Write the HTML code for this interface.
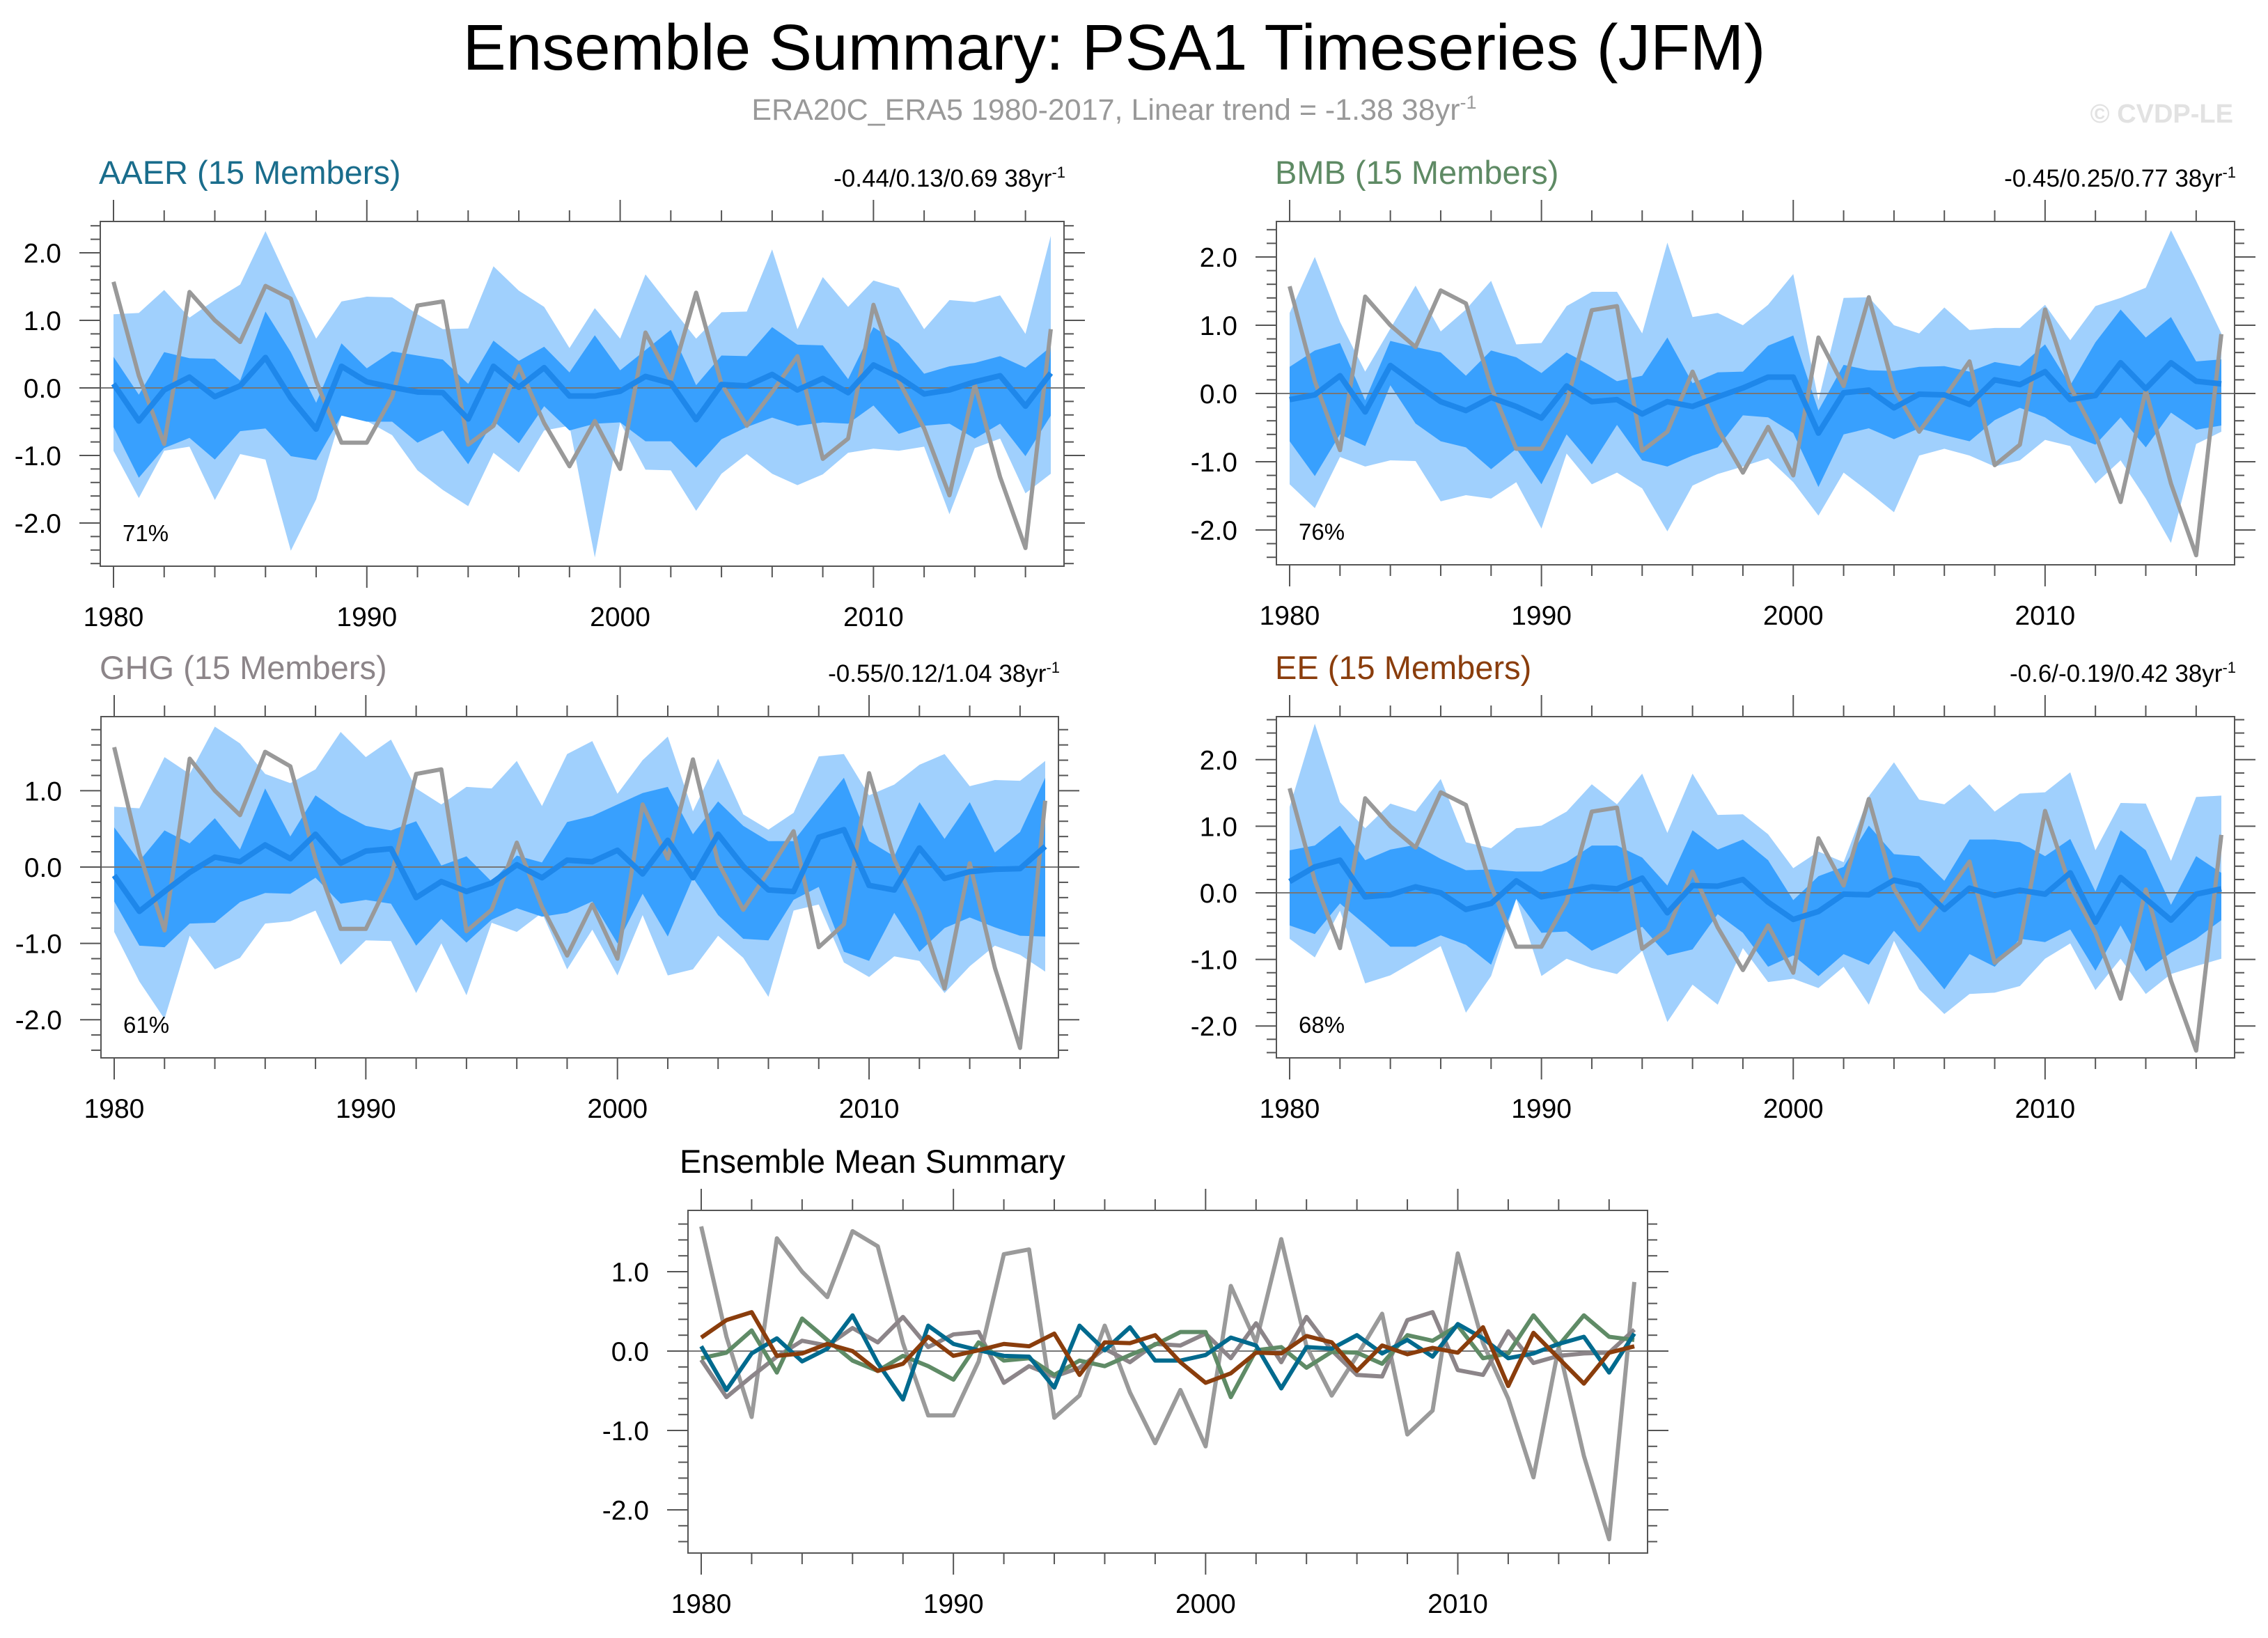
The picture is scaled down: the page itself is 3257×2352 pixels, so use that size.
<!DOCTYPE html>
<html><head><meta charset="utf-8">
<style>
html,body{margin:0;padding:0;background:#fff;}
svg{display:block;font-family:"Liberation Sans",sans-serif;}
</style></head>
<body>
<svg id="chart" width="3257" height="2352" viewBox="0 0 3257 2352" xmlns="http://www.w3.org/2000/svg">
<text x="1600" y="100" text-anchor="middle" font-size="93" fill="#000">Ensemble Summary: PSA1 Timeseries (JFM)</text>
<text x="1600" y="172" text-anchor="middle" font-size="43" fill="#999">ERA20C_ERA5 1980-2017, Linear trend = -1.38 38yr<tspan dy="-16" font-size="27">-1</tspan></text>
<text x="3207" y="176" text-anchor="end" font-size="38" font-weight="bold" fill="#e2e2e2">© CVDP-LE</text>
<g id="plots"></g>
</svg>
<script>
const years = Array.from({length:38},(_,i)=>1980+i);
const obs = [1.57,0.18,-0.83,1.42,1.0,0.68,1.51,1.32,0.1,-0.81,-0.81,-0.13,1.22,1.28,-0.84,-0.56,0.32,-0.52,-1.16,-0.49,-1.2,0.82,0.11,1.41,0.06,-0.56,-0.06,0.47,-1.05,-0.75,1.23,0.1,-0.6,-1.59,0.05,-1.32,-2.37,0.87];
const aaerMean = [0.06,-0.49,-0.03,0.16,-0.13,0.03,0.45,-0.15,-0.61,0.32,0.09,0.01,-0.06,-0.07,-0.46,0.32,0.01,0.3,-0.12,-0.12,-0.05,0.17,0.07,-0.47,0.05,0.03,0.2,-0.03,0.14,-0.07,0.34,0.16,-0.09,-0.03,0.09,0.18,-0.27,0.22];
const bmbMean = [-0.09,-0.02,0.26,-0.27,0.41,0.14,-0.12,-0.25,-0.06,-0.19,-0.36,0.11,-0.12,-0.09,-0.3,-0.12,-0.19,-0.05,0.08,0.24,0.24,-0.58,0.01,0.05,-0.21,-0.01,-0.02,-0.16,0.2,0.13,0.32,-0.09,-0.03,0.45,0.07,0.45,0.18,0.14];
const ghgMean = [-0.11,-0.58,-0.32,-0.07,0.13,0.07,0.29,0.11,0.43,0.05,0.21,0.24,-0.4,-0.19,-0.32,-0.21,0.03,-0.14,0.09,0.07,0.22,-0.09,0.35,-0.14,0.43,0.01,-0.3,-0.32,0.39,0.49,-0.24,-0.3,0.25,-0.15,-0.06,-0.03,-0.02,0.27];
const eeMean = [0.17,0.39,0.49,-0.06,-0.03,0.09,0,-0.25,-0.16,0.18,-0.06,0.01,0.09,0.06,0.22,-0.3,0.11,0.1,0.2,-0.14,-0.4,-0.28,-0.02,-0.03,0.19,0.11,-0.25,0.07,-0.04,0.04,-0.02,0.3,-0.44,0.23,-0.09,-0.41,-0.02,0.06];

const aaerHi = [1.09,1.11,1.45,1.04,1.3,1.53,2.32,1.51,0.73,1.28,1.35,1.34,1.09,0.87,0.88,1.8,1.44,1.2,0.59,1.18,0.73,1.68,1.2,0.73,1.12,1.13,2.05,0.87,1.64,1.2,1.59,1.48,0.87,1.3,1.27,1.37,0.8,2.25];
const aaerLo = [-0.93,-1.63,-0.93,-0.87,-1.66,-0.98,-1.06,-2.41,-1.65,-0.39,-0.49,-0.7,-1.22,-1.51,-1.75,-0.96,-1.25,-0.63,-0.56,-2.51,-0.51,-1.21,-1.22,-1.82,-1.27,-0.98,-1.27,-1.44,-1.28,-0.96,-0.9,-0.93,-0.87,-1.87,-0.89,-0.75,-1.56,-1.27];
const aaerQ3 = [0.46,-0.1,0.53,0.44,0.43,0.11,1.13,0.53,-0.22,0.66,0.29,0.54,0.48,0.42,0.06,0.7,0.4,0.61,0.23,0.78,0.26,0.56,0.86,0.04,0.48,0.47,0.9,0.64,0.63,0.13,0.9,0.66,0.21,0.32,0.37,0.47,0.3,0.61];
const aaerQ1 = [-0.58,-1.33,-0.89,-0.74,-1.06,-0.64,-0.6,-1.01,-1.07,-0.41,-0.5,-0.5,-0.81,-0.63,-1.13,-0.49,-0.82,-0.27,-0.63,-0.53,-0.51,-0.79,-0.79,-1.18,-0.76,-0.58,-0.44,-0.56,-0.51,-0.53,-0.26,-0.68,-0.56,-0.53,-0.75,-0.53,-1.01,-0.41];

const bmbHi = [1.18,2.0,1.05,0.32,0.95,1.58,0.91,1.23,1.65,0.72,0.74,1.28,1.49,1.49,0.88,2.21,1.12,1.18,1.0,1.3,1.75,-0.1,1.4,1.41,1.0,0.88,1.26,0.93,0.96,0.96,1.3,0.78,1.28,1.4,1.55,2.39,1.65,0.88];
const bmbLo = [-1.33,-1.68,-0.93,-1.07,-0.98,-0.99,-1.58,-1.49,-1.54,-1.3,-1.98,-0.88,-1.33,-1.16,-1.39,-2.02,-1.35,-1.18,-1.07,-0.95,-1.3,-1.79,-1.16,-1.44,-1.74,-0.91,-0.81,-0.91,-1.07,-0.98,-0.68,-0.77,-1.32,-0.98,-1.54,-2.19,-0.74,-0.56];
const bmbQ3 = [0.39,0.63,0.74,-0.1,0.77,0.68,0.6,0.26,0.63,0.53,0.3,0.6,0.4,0.18,0.26,0.82,0.15,0.31,0.32,0.7,0.85,-0.25,0.42,0.34,0.33,0.39,0.4,0.32,0.46,0.4,0.72,0.12,0.75,1.23,0.82,1.12,0.47,0.5];
const bmbQ1 = [-0.7,-1.21,-0.6,-0.77,0.12,-0.44,-0.7,-0.79,-1.11,-0.81,-1.33,-0.6,-1.04,-0.46,-0.98,-1.07,-0.91,-0.79,-0.32,-0.35,-0.58,-1.37,-0.6,-0.51,-0.67,-0.51,-0.61,-0.7,-0.39,-0.21,-0.35,-0.61,-0.75,-0.35,-0.79,-0.28,-0.53,-0.47];

const ghgHi = [0.79,0.77,1.44,1.22,1.84,1.62,1.22,1.1,1.28,1.77,1.44,1.67,1.03,0.82,1.05,1.03,1.39,0.8,1.48,1.65,0.96,1.4,1.71,0.73,1.42,0.69,0.49,0.71,1.45,1.48,0.94,1.08,1.34,1.48,1.06,1.14,1.13,1.39];
const ghgLo = [-0.85,-1.5,-1.99,-0.9,-1.34,-1.19,-0.74,-0.71,-0.57,-1.28,-0.96,-0.97,-1.65,-1.0,-1.68,-0.73,-0.85,-0.6,-1.34,-0.82,-1.42,-0.63,-1.42,-1.34,-0.9,-1.19,-1.7,-0.57,-0.49,-1.25,-1.44,-1.17,-1.23,-1.65,-1.3,-1.03,-1.15,-1.37];
const ghgQ3 = [0.52,0.08,0.48,0.31,0.64,0.23,1.03,0.4,0.94,0.71,0.54,0.48,0.6,0.02,0.14,-0.19,0.15,0.06,0.59,0.67,0.82,0.97,1.05,0.43,0.86,0.54,0.34,0.34,0.76,1.17,0.34,0.14,0.85,0.37,0.85,0.19,0.46,1.17];
const ghgQ1 = [-0.45,-1.03,-1.05,-0.74,-0.73,-0.46,-0.34,-0.35,-0.14,-0.48,-0.43,-0.48,-1.03,-0.68,-0.99,-0.69,-0.54,-0.65,-0.6,-0.45,-1.0,-0.35,-0.91,-0.14,-0.63,-0.94,-0.96,-0.43,-0.26,-1.11,-1.23,-0.6,-1.11,-0.8,-0.66,-0.79,-0.9,-0.91];

const eeHi = [1.29,2.54,1.36,0.97,1.34,1.22,1.71,0.76,0.67,0.97,1.01,1.22,1.63,1.33,1.79,0.9,1.79,1.17,1.18,0.88,0.37,0.62,0.46,1.45,1.96,1.4,1.33,1.63,1.22,1.49,1.51,1.81,0.64,1.35,1.34,0.48,1.44,1.46];
const eeLo = [-0.69,-0.97,-0.27,-1.36,-1.24,-1.02,-0.8,-1.8,-1.25,-0.09,-1.25,-0.99,-1.13,-1.22,-0.87,-1.94,-1.38,-1.68,-0.83,-1.34,-1.29,-1.43,-1.11,-1.68,-0.72,-1.45,-1.82,-1.52,-1.5,-1.4,-0.99,-0.76,-1.46,-0.99,-1.52,-1.22,-1.1,-0.99];
const eeQ3 = [0.64,0.71,1.01,0.49,0.65,0.72,0.51,0.34,0.35,0.32,0.32,0.46,0.71,0.71,0.53,0.11,0.94,0.65,0.8,0.49,-0.11,0.25,0.39,1.01,0.58,0.55,0.18,0.8,0.8,0.76,0.55,0.81,0.02,0.94,0.64,-0.18,0.55,0.3];
const eeQ1 = [-0.49,-0.62,-0.16,-0.48,-0.81,-0.81,-0.64,-0.78,-1.08,-0.09,-0.6,-0.58,-0.87,-0.69,-0.51,-0.94,-0.85,-0.32,-0.6,-1.11,-0.94,-1.25,-0.92,-1.08,-0.57,-0.99,-1.45,-0.92,-1.11,-0.69,-0.74,-0.55,-1.17,-0.49,-1.18,-0.9,-0.69,-0.41];

const topTicks = [2,1,0,-1,-2];
const ghgTicks = [1,0,-1,-2];
const sumTicks = [1,0,-1,-2];
const xTicks = [1980,1990,2000,2010];

const NS="http://www.w3.org/2000/svg";
const root=document.getElementById('plots');
function mk(tag,attrs,parent){const e=document.createElementNS(NS,tag);for(const k in attrs)e.setAttribute(k,attrs[k]);(parent||root).appendChild(e);return e;}

function panel(cfg){
  const g=mk('g',{});
  
  
  const L=cfg.x0,R=cfg.x1,T=cfg.y0,B=cfg.y1;
  const xs=y=>L+19+(y-1980)*(R-L-38)/37;
  const ys=v=>cfg.zero-v*cfg.unit;
  const clip='clip-'+cfg.name;
  const cp=mk('clipPath',{id:clip},g);mk('rect',{x:L,y:T,width:R-L,height:B-T},cp);
  const inner=mk('g',{'clip-path':`url(#${clip})`},g);
  function band(hi,lo,color,nm){
    let d='M'+years.map((y,i)=>xs(y)+','+ys(hi[i])).join('L');
    d+='L'+years.slice().reverse().map((y,k)=>{const i=years.length-1-k;return xs(y)+','+ys(lo[i]);}).join('L')+'Z';
    const p=mk('path',{d:d,fill:color,stroke:'none'},inner);
    
    
  }
  function line(vals,color,w,nm){
    const p=mk('polyline',{points:years.map((y,i)=>xs(y)+','+ys(vals[i])).join(' '),fill:'none',stroke:color,'stroke-width':w,'stroke-linejoin':'round'},inner);
    
    
  }
  if(cfg.hi){band(cfg.hi,cfg.lo,'#a0d0fd','spread-band-outer');band(cfg.q3,cfg.q1,'#38a0fe','spread-band-inner');}
  const zl=mk('line',{x1:L,x2:R,y1:ys(0),y2:ys(0),stroke:'#777','stroke-width':2},inner);
  
  
  if(cfg.hi){line(obs,'#999',6,'observed-line');line(cfg.mean,'#1e87ea',8,'ensemble-mean-line');}
  else{
    line(obs,'#9a9a9a',6,'observed-line');
    line(ghgMean,'#8c8589',6,'ghg-mean-line');
    line(bmbMean,'#5f8b66',6,'bmb-mean-line');
    line(aaerMean,'#006a8e',6,'aaer-mean-line');
    line(eeMean,'#8a3d0c',6,'ee-mean-line');
  }
  const fr=mk('rect',{x:L,y:T,width:R-L,height:B-T,fill:'none',stroke:'#555','stroke-width':2},g);
  
  
  for(let y=1980;y<=2016;y+=2){
    const maj=(y%10===0), len=maj?31:16, x=xs(y);
    mk('line',{x1:x,x2:x,y1:T,y2:T-len,stroke:'#555','stroke-width':2},g);
    mk('line',{x1:x,x2:x,y1:B,y2:B+len,stroke:'#555','stroke-width':2},g);
  }
  xTicks.forEach(y=>{
    const t=mk('text',{x:xs(y),y:B+86,'text-anchor':'middle','font-size':39,fill:'#000'},g);
    t.textContent=y;
    
    
  });
  const vmin=(cfg.zero-B)/cfg.unit, vmax=(cfg.zero-T)/cfg.unit;
  for(let k=Math.ceil(vmin*5);k<=Math.floor(vmax*5);k++){
    const v=k/5, maj=(k%5===0), len=maj?30:14, y=ys(v);
    mk('line',{x1:L,x2:L-len,y1:y,y2:y,stroke:'#555','stroke-width':2},g);
    mk('line',{x1:R,x2:R+len,y1:y,y2:y,stroke:'#555','stroke-width':2},g);
  }
  cfg.ticks.forEach(v=>{
    const t=mk('text',{x:L-56,y:ys(v)+14,'text-anchor':'end','font-size':39,fill:'#000'},g);
    t.textContent=v.toFixed(1);
    
    
  });
  const tt=mk('text',{x:L+(cfg.hi?-2:-12),y:T-54,'font-size':47,fill:cfg.color},g);
  tt.textContent=cfg.title;
  
  
  if(cfg.trend){
    const r=mk('text',{x:R+2,y:T-50,'text-anchor':'end','font-size':35,fill:'#000'},g);
    r.textContent=cfg.trend;
    
    
    const s=mk('tspan',{dy:-13,'font-size':22},r);s.textContent='-1';
  }
  if(cfg.pct){
    const p=mk('text',{x:L+32,y:B-36,'font-size':33,fill:'#000'},g);
    p.textContent=cfg.pct;
    
    
  }
}
panel({name:'aaer-panel',x0:144,x1:1528,y0:318,y1:813,zero:557,unit:97,ticks:topTicks,hi:aaerHi,lo:aaerLo,q3:aaerQ3,q1:aaerQ1,mean:aaerMean,title:'AAER (15 Members)',color:'#1a6d8c',trend:'-0.44/0.13/0.69 38yr',pct:'71%'});
panel({name:'bmb-panel',x0:1833,x1:3209,y0:318,y1:811,zero:565,unit:98,ticks:topTicks,hi:bmbHi,lo:bmbLo,q3:bmbQ3,q1:bmbQ1,mean:bmbMean,title:'BMB (15 Members)',color:'#5e8a64',trend:'-0.45/0.25/0.77 38yr',pct:'76%'});
panel({name:'ghg-panel',x0:145,x1:1520,y0:1029,y1:1519,zero:1245,unit:109.6,ticks:ghgTicks,hi:ghgHi,lo:ghgLo,q3:ghgQ3,q1:ghgQ1,mean:ghgMean,title:'GHG (15 Members)',color:'#8c8589',trend:'-0.55/0.12/1.04 38yr',pct:'61%'});
panel({name:'ee-panel',x0:1833,x1:3209,y0:1029,y1:1519,zero:1282,unit:95.6,ticks:topTicks,hi:eeHi,lo:eeLo,q3:eeQ3,q1:eeQ1,mean:eeMean,title:'EE (15 Members)',color:'#8a3d0c',trend:'-0.6/-0.19/0.42 38yr',pct:'68%'});
panel({name:'ensemble-mean-summary-panel',x0:988,x1:2366,y0:1738,y1:2230,zero:1940,unit:114,ticks:sumTicks,title:'Ensemble Mean Summary',color:'#000'});
</script>
</body></html>
